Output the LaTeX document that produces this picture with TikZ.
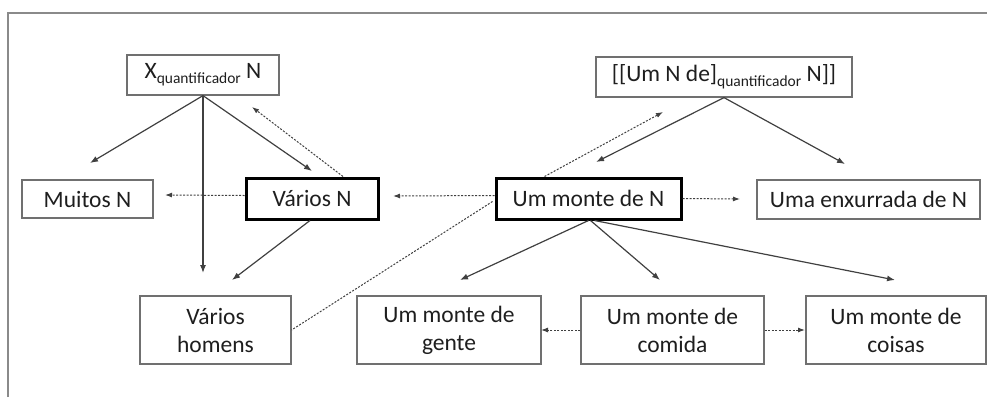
\documentclass[tikz,border=0pt]{standalone}
\usepackage{fontspec}
\setmainfont{Carlito}
\usetikzlibrary{arrows.meta,calc}
\definecolor{boxgray}{HTML}{707070}
\definecolor{linegray}{HTML}{404040}
\definecolor{framegray}{HTML}{8A8A8A}
\definecolor{txt}{HTML}{1E1E1E}
\newcommand\qsub{\raisebox{-5pt}{\fontsize{15.5}{18}\selectfont quantificador}}
\begin{document}
\begin{tikzpicture}[x=1pt,y=-1pt,
 box/.style={draw=boxgray,line width=1.2pt,inner sep=0pt,align=center,text=txt,font=\fontsize{23.5}{28}\selectfont},
 boldbox/.style={box,draw=black,line width=3pt},
 solidarrow/.style={draw=linegray,line width=1.2pt,-{Latex[length=8pt,width=6pt]}},
 dotarrow/.style={draw=linegray,line width=1pt,dash pattern=on 2pt off 1.5pt,-{Latex[length=7pt,width=5pt]}},
 dotline/.style={draw=linegray,line width=1pt,dash pattern=on 2pt off 1.5pt}]
\useasboundingbox (0,0) rectangle (987,397);
\draw[framegray,line width=2pt] (8,397) -- (8,13) -- (987,13);

\node[box,minimum width=152pt,minimum height=40pt] (xq) at (203,75) {X\qsub\ N};
\node[box,minimum width=256pt,minimum height=40pt] (um) at (724,77) {[[Um N de]\qsub\ N]]};
\node[box,minimum width=131pt,minimum height=38pt] (muitos) at (87.5,199) {Muitos N};
\node[boldbox,minimum width=132pt,minimum height=41pt] (varios) at (312,198.5) {Vários N};
\node[boldbox,minimum width=185pt,minimum height=41pt] (monte) at (588.5,198.5) {Um monte de N};
\node[box,minimum width=223pt,minimum height=39pt] (enx) at (868.5,199.5) {Uma enxurrada de N};
\node[box,minimum width=151pt,minimum height=68pt] (homens) at (215.5,330) {Vários\\homens};
\node[box,minimum width=184pt,minimum height=68pt] (gente) at (449,330) {Um monte de\\gente};
\node[box,minimum width=183pt,minimum height=68pt] (comida) at (672.5,330) {Um monte de\\comida};
\node[box,minimum width=180pt,minimum height=68pt] (coisas) at (896,330) {Um monte de\\coisas};

% free ends
\coordinate (e1) at (90,163);
\coordinate (e2) at (203,273);
\coordinate (e3) at (312,171);
\coordinate (e4) at (252,107);
\coordinate (e5) at (165,195);
\coordinate (e6) at (232,280);
\coordinate (e7) at (393,196);
\coordinate (e8) at (663,112);
\coordinate (e9) at (596,162);
\coordinate (e10) at (845,164);
\coordinate (e11) at (740,199);
\coordinate (e12) at (460,280);
\coordinate (e13) at (660,280);
\coordinate (e14) at (895,280);
\coordinate (e15) at (541,330);
\coordinate (e16) at (805,330);

\draw[solidarrow] (xq.south) -- (e1);
\draw[solidarrow] (xq.south) -- (e2);
\draw[solidarrow] (xq.south) -- (e3);
\draw[dotarrow] ($(varios.north)+(31,0)$) -- (e4);
\draw[dotarrow] ($(varios.west)+(0,-3)$) -- (e5);
\draw[solidarrow] ($(varios.south)+(-2,0)$) -- (e6);
\draw[dotarrow] ($(monte.west)+(0,-3)$) -- (e7);
\draw[dotline] ($(monte.west)+(-2,3)$) -- (homens.east);
\draw[dotarrow] ($(monte.north)+(-44,0)$) -- (e8);
\draw[solidarrow] (um.south) -- (e9);
\draw[solidarrow] (um.south) -- (e10);
\draw[dotarrow] (monte.east) -- (e11);
\draw[solidarrow] (monte.south) -- (e12);
\draw[solidarrow] ($(monte.south)+(2,0)$) -- (e13);
\draw[solidarrow] ($(monte.south)+(6,0)$) -- (e14);
\draw[dotarrow] (comida.west) -- (e15);
\draw[dotarrow] (comida.east) -- (e16);
\end{tikzpicture}
\end{document}
